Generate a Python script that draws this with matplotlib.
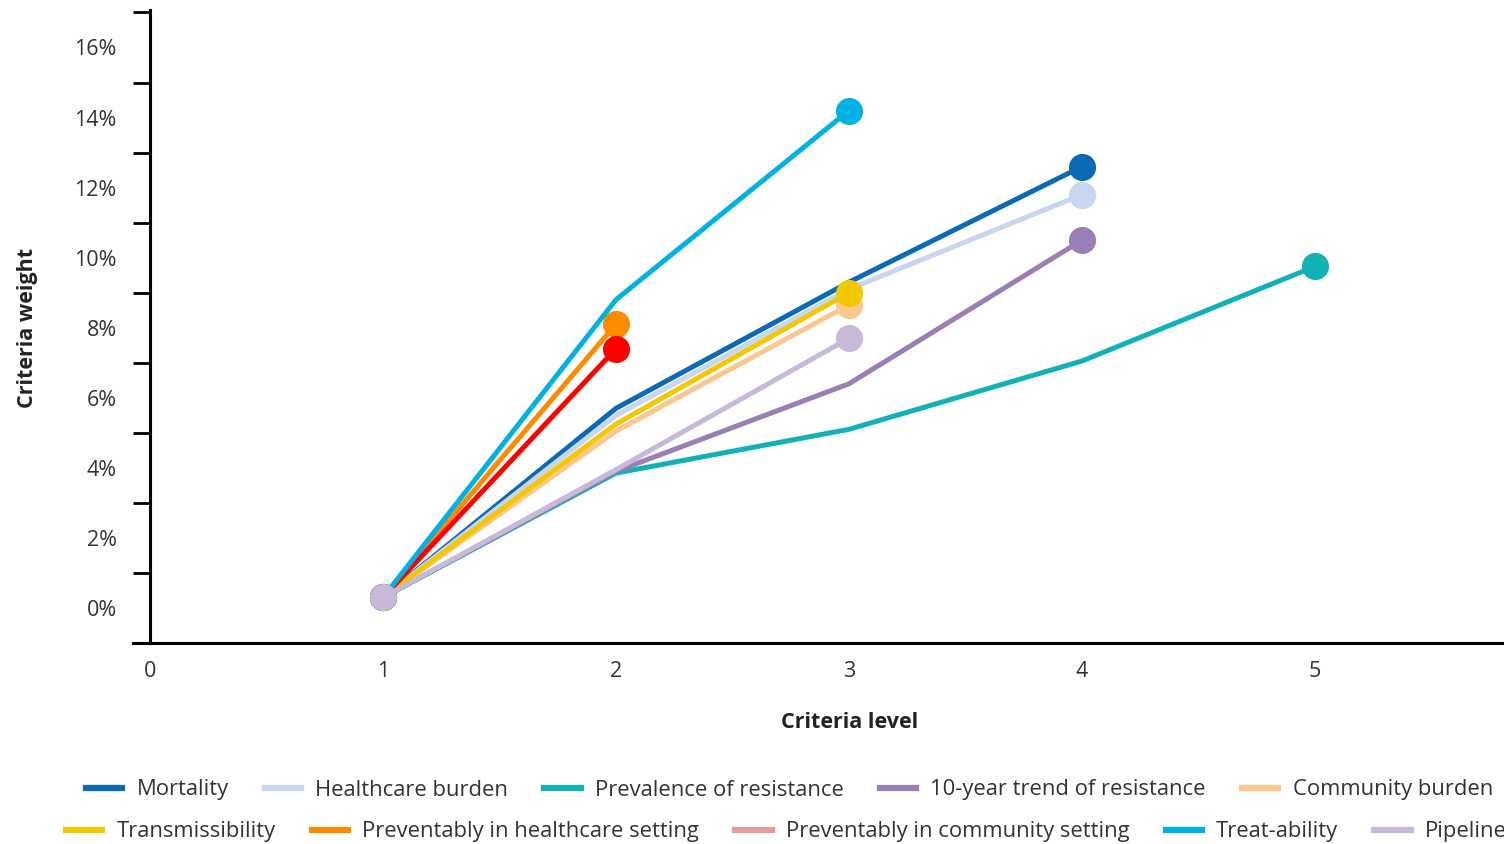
import matplotlib.pyplot as plt
from matplotlib.lines import Line2D
import numpy as np

plt.rcParams['font.family'] = ['Open Sans', 'DejaVu Sans']

# %% data (criteria weight in %, per criteria level)
series_names = ['Mortality', 'Healthcare burden', 'Prevalence of resistance',
                '10-year trend of resistance', 'Community burden',
                'Transmissibility', 'Preventably in healthcare setting',
                'Preventably in community setting', 'Treat-ability', 'Pipeline']

mortality = [0.3, 5.7, 9.3, 12.6]
healthcare_burden = [0.3, 5.5, 9.1, 11.8]
prevalence = [0.3, 3.85, 5.1, 7.05, 9.75]
trend_10y = [0.3, 3.9, 6.4, 10.5]
community_burden = [0.3, 5.05, 8.65]
transmissibility = [0.3, 5.25, 9.0]
prev_healthcare = [0.3, 8.1]
prev_community = [0.3, 7.4]
treatability = [0.3, 8.8, 14.2]
pipeline = [0.3, 3.95, 7.7]

all_values = [mortality, healthcare_burden, prevalence, trend_10y, community_burden,
              transmissibility, prev_healthcare, prev_community, treatability, pipeline]

line_colors = ['#0a6ab6', '#c9d6ef', '#10b2b5', '#9a7fb6', '#fdc68e',
               '#f3c800', '#ff8a00', '#ff0000', '#00b2e3', '#c8b9d9']
legend_colors = ['#0a6ab6', '#c9d6ef', '#10b2b5', '#9a7fb6', '#fdc68e',
                 '#f3c800', '#ff8a00', '#e69a9e', '#00b2e3', '#c8b9d9']

y_labels = ['0%', '2%', '4%', '6%', '8%', '10%', '12%', '14%', '16%']
x_labels = ['0', '1', '2', '3', '4', '5']

# %% figure
fig = plt.figure(figsize=(15.04, 8.44), dpi=100)
ax = fig.add_axes([133 / 1504, 201 / 844, 1 - 133 / 1504, 633 / 844])

for vals, col in zip(all_values, line_colors):
    lv = np.arange(1, len(vals) + 1)
    ax.plot(lv, vals, color=col, lw=3.6, marker='o', markersize=18.5,
            markevery=[0, len(vals) - 1], solid_capstyle='round',
            solid_joinstyle='round')

ax.set_xlim(-17 / 233, 1354 / 233)
ax.set_ylim(-0.97, 17.07)

ax.spines['left'].set_position(('data', 0))
ax.spines['top'].set_visible(False)
ax.spines['right'].set_visible(False)
ax.spines['left'].set_linewidth(2.2)
ax.spines['bottom'].set_linewidth(2.2)

ax.set_yticks(np.arange(0, 17, 2))
ax.set_yticklabels(y_labels)
ax.set_yticks(np.arange(-1, 18, 2), minor=True)
ax.tick_params(axis='y', which='major', length=0, pad=24, labelsize=15.5, labelcolor='#333333')
ax.tick_params(axis='y', which='minor', length=12, width=2.0, direction='out')

ax.set_xticks(np.arange(0, 6))
ax.set_xticklabels(x_labels)
ax.tick_params(axis='x', which='major', length=0, pad=13, labelsize=15.5, labelcolor='#333333')

fig.text(27 / 1504, 1 - 328 / 844, 'Criteria weight', rotation=90, ha='center', va='center',
         fontsize=15.5, fontweight='bold', color='#222222')
fig.text(850 / 1504, 1 - 722 / 844, 'Criteria level', ha='center', va='center',
         fontsize=15.5, fontweight='bold', color='#222222')

# %% legend, two rows
handles = [Line2D([0], [0], color=c, lw=4.5) for c in legend_colors]
leg_kw = dict(ncol=5, frameon=False, fontsize=15.8, handlelength=1.65, handletextpad=0.65,
              columnspacing=1.65, borderpad=0, borderaxespad=0, labelcolor='#333333')
leg1 = fig.legend(handles[:5], series_names[:5], loc='center left',
                  bbox_to_anchor=(86 / 1504, 1 - 790 / 844), **leg_kw)
leg2 = fig.legend(handles[5:], series_names[5:], loc='center left',
                  bbox_to_anchor=(66 / 1504, 1 - 832 / 844), **leg_kw)

fig.savefig('out.png', dpi=100)
